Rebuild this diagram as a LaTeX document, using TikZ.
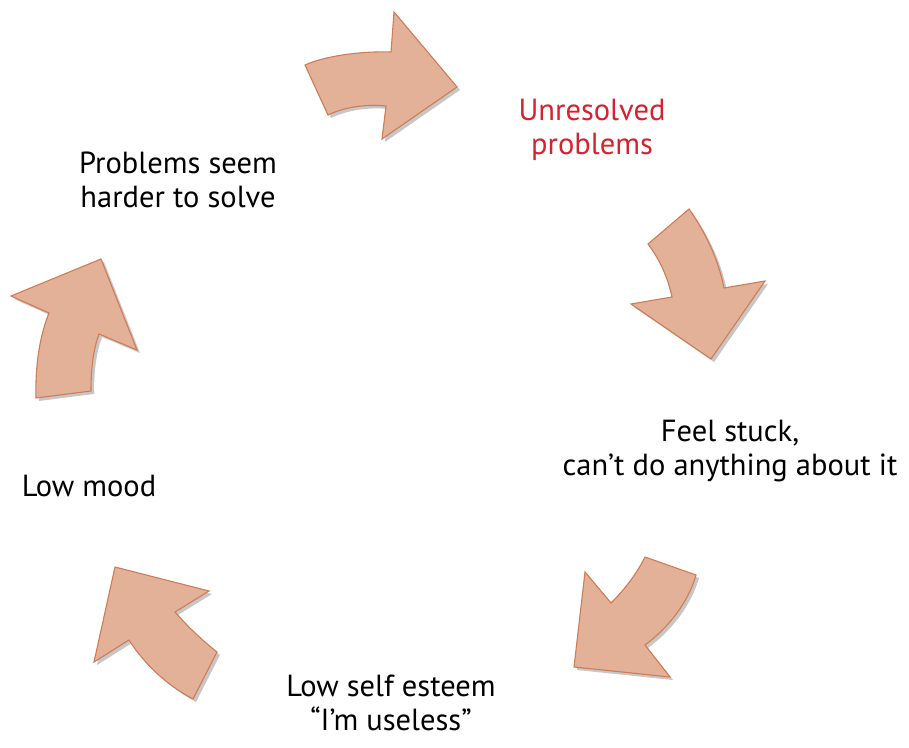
\documentclass[tikz,border=0pt]{standalone}
\usepackage{fontspec}
\setmainfont{PT Sans}
\usetikzlibrary{shadows}
\definecolor{arrowfill}{RGB}{227,177,151}
\definecolor{arrowline}{RGB}{206,124,86}
\definecolor{redtext}{RGB}{214,34,46}
\tikzset{
  cyclearrow/.style={fill=arrowfill, draw=arrowline, line width=1.1pt, line join=miter,
    drop shadow={shadow xshift=3pt, shadow yshift=-3pt, opacity=0.22, fill=black}},
  label/.style={font=\fontsize{30.5}{34}\selectfont, align=center, inner sep=0pt, anchor=base}
}
\begin{document}
\begin{tikzpicture}[x=1pt,y=-1pt]
\useasboundingbox (0,0) rectangle (909,747);
% arrow top
\path[cyclearrow] (305,65) .. controls (325,56) and (360,51) .. (391,52) -- (394,12) -- (457,87) -- (382,139) -- (386,106) .. controls (365,104) and (345,107) .. (328,115) -- cycle;
% arrow upper right
\path[cyclearrow] (689,209) .. controls (705,232) and (718,258) .. (724,288) -- (765,281) -- (711,359) -- (631,304) -- (672,297) .. controls (668,278) and (660,260) .. (648,244) -- cycle;
% arrow lower right
\path[cyclearrow] (645,557) -- (696,575) .. controls (688,603) and (668,628) .. (645,645) -- (670,677) -- (574,667) -- (585,572) -- (611,603) .. controls (624,590) and (636,575) .. (645,557) -- cycle;
% arrow lower left
\path[cyclearrow] (193,699) -- (217,652) .. controls (202,640) and (188,627) .. (175,612) -- (209,591) -- (115,567) -- (94,662) -- (129,640) .. controls (145,665) and (167,685) .. (193,699) -- cycle;
% arrow left
\path[cyclearrow] (36,398) -- (91,391) .. controls (91,370) and (93,350) .. (99,334) -- (137,350) -- (101,259) -- (11,296) -- (49,313) .. controls (40,335) and (35,365) .. (36,398) -- cycle;
% labels (anchor at baseline of last line)
\node[label] (harder) at (178,207) {Problems seem\\harder to solve};
\node[label, text=redtext] (unresolved) at (592,154) {Unresolved\\problems};
\node[label] (stuck) at (730,475) {Feel stuck,\\can’t do anything about it};
\node[label] (mood) at (89,496) {Low mood};
\node[label] (esteem) at (391,730) {Low self esteem\\“I’m useless”};
\end{tikzpicture}
\end{document}
